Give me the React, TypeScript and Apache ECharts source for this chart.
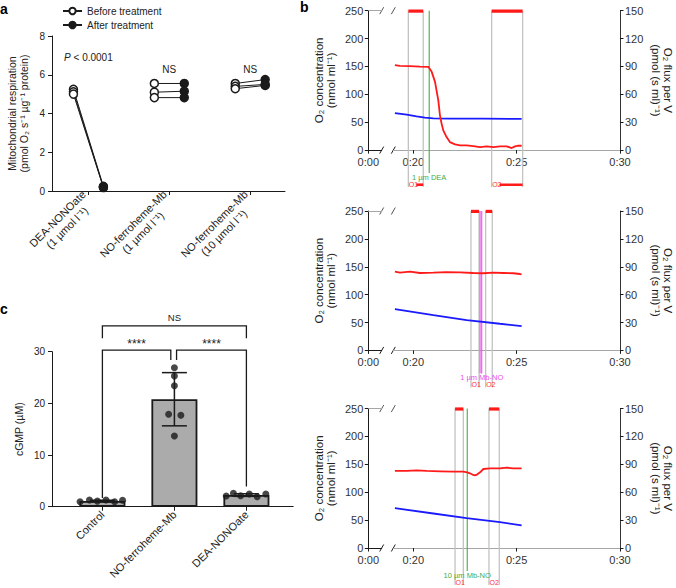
import React, { useEffect, useRef } from 'react';
import * as echarts from 'echarts';

// ================= Panel a : mitochondrial respiration =================
const A_CATEGORIES = [
  ['DEA-NONOate', '(1 µmol l⁻¹)'],
  ['NO-ferroheme-Mb', '(1 µmol l⁻¹)'],
  ['NO-ferroheme-Mb', '(10 µmol l⁻¹)'],
];
const A_BEFORE = [
  [5.25, 5.12, 5.0],
  [5.55, 5.1, 4.82],
  [5.55, 5.4, 5.28],
];
const A_AFTER = [
  [0.24, 0.2, 0.18],
  [5.55, 5.15, 4.82],
  [5.75, 5.5, 5.45],
];
const A_STATS = ['P < 0.0001', 'NS', 'NS'];
const A_LEGEND = ['Before treatment', 'After treatment'];
const A_Y_MAX = 8;
const A_Y_STEP = 2;

// ================= Panel c : cGMP =================
const C_CATEGORIES = ['Control', 'NO-ferroheme-Mb', 'DEA-NONOate'];
const C_MEAN = [1.1, 20.8, 2.25];
const C_SD = [0.15, 5.15, 0.25];
const C_POINTS = [
  [0.96, 1.28, 1.08, 1.28, 0.96, 1.25],
  [26.9, 25.3, 23.4, 17.9, 17.7, 13.7],
  [2.06, 2.58, 2.13, 2.45, 1.94, 2.45],
];
const C_BRACKET_LABELS = ['NS', '****', '****'];
const C_Y_MAX = 30;
const C_Y_STEP = 10;

// ================= Panel b : oxygraph traces (time in min) =================
const B_TIME_TICKS = [20, 25, 30];
const B_CONC_MAX = 250;
const B_CONC_STEP = 50;
const B_FLUX_MAX = 150;
const B_FLUX_STEP = 30;

// trace 1 (1 µm DEA)
const B1_FLUX_T = [19.11, 19.35, 19.84, 20.32, 20.73, 20.89, 21.05, 21.21, 21.29, 21.37, 21.45, 21.61, 21.77, 22.02, 22.26, 22.58, 22.9, 23.23, 23.55, 23.87, 24.19, 24.52, 24.76, 24.92, 25.08, 25.24];
const B1_FLUX = [91.4, 90.6, 90.3, 89.9, 89.6, 84.2, 73.4, 53.6, 37.4, 28.4, 21.2, 14.0, 8.6, 6.1, 5.0, 5.0, 4.3, 3.2, 4.0, 3.2, 4.0, 4.0, 2.2, 4.0, 4.7, 4.7];
const B1_CONC_T = [19.11, 19.68, 20.16, 20.56, 20.97, 21.77, 23.39, 25.24];
const B1_CONC = [66.5, 63.5, 60.5, 58.2, 57.0, 56.4, 56.4, 56.0];
const B1_WINDOWS = [[19.76, 20.48], [23.79, 25.29]];
const B1_WINDOW_LABELS = ['O1', 'O2'];
const B1_INJ = [20.77];
const B1_INJ_LABELS = ['1 µm DEA'];

// trace 2 (1 µm Mb-NO)
const B2_FLUX_T = [19.11, 19.35, 19.84, 20.32, 20.97, 21.61, 22.26, 22.9, 23.39, 23.87, 24.35, 24.84, 25.16, 25.24];
const B2_FLUX = [84.7, 83.6, 84.7, 83.3, 83.6, 84.3, 84.0, 83.3, 83.0, 83.6, 83.3, 83.0, 82.2, 81.8];
const B2_CONC_T = [19.11, 20.97, 22.58, 24.19, 25.24];
const B2_CONC = [74.2, 63.4, 54.4, 47.8, 43.7];
const B2_WINDOWS = [[22.79, 23.18], [23.5, 23.82]];
const B2_WINDOW_LABELS = ['O1', 'O2'];
const B2_INJ = [23.23, 23.31];
const B2_INJ_LABELS = ['', '1 µm Mb-NO'];

// trace 3 (10 µm Mb-NO)
const B3_FLUX_T = [19.11, 19.68, 20.16, 20.65, 21.29, 21.94, 22.42, 22.61, 22.74, 22.9, 22.98, 23.1, 23.23, 23.39, 23.71, 24.19, 24.52, 24.84, 25.24];
const B3_FLUX = [82.9, 82.9, 83.6, 82.9, 82.5, 82.1, 82.1, 81.4, 80.4, 78.6, 78.2, 79.3, 81.4, 85.0, 85.7, 85.7, 86.4, 85.7, 85.7];
const B3_CONC_T = [19.11, 20.97, 22.58, 24.19, 25.24];
const B3_CONC = [71.4, 61.9, 53.6, 46.4, 40.5];
const B3_WINDOWS = [[22.02, 22.42], [23.66, 24.16]];
const B3_WINDOW_LABELS = ['O1', 'O2'];
const B3_INJ = [22.61];
const B3_INJ_LABELS = ['10 µm Mb-NO'];

// ================= styling / layout =================
const FONT = '"Liberation Sans", Arial, sans-serif';
const INK = '#222';
const AX = '#1a1a1a';
const A_PAIR_OFFSET = 0.185;
const A_STAT_LEVEL = [6.88, 6.27, 6.27];
const A_LABEL_PAD = [10, 17, 14];
const C_JITTER = [
  [-0.31, -0.18, -0.07, 0.05, 0.17, 0.28],
  [0, 0, 0, -0.08, 0.09, 0],
  [-0.28, -0.18, -0.08, 0.04, 0.15, 0.27],
];
const C_BRACKETS = [
  { x: [1, 3], y: 35.0, legs: [32.6, 32.6] },
  { x: [1, 1.95], y: 30.3, legs: [1.7, 28.4] },
  { x: [2.03, 3], y: 30.3, legs: [28.4, 3.9] },
];

const zip = (a: number[], b: number[]) => a.map((v, i) => [v, b[i]]);

function buildOption() {
  const grid: any[] = [];
  const xAxis: any[] = [];
  const yAxis: any[] = [];
  const series: any[] = [];
  const graphic: any[] = [];
  const addGrid = (g: any) => { grid.push({ ...g, containLabel: false, outerBoundsMode: 'none' }); return grid.length - 1; };
  const addX = (a: any) => { xAxis.push({ splitLine: { show: false }, ...a }); return xAxis.length - 1; };
  const addY = (a: any) => { yAxis.push({ splitLine: { show: false }, ...a }); return yAxis.length - 1; };
  const axLine = (color = AX) => ({ show: true, lineStyle: { color, width: 1 } });
  const tick = (len: number, extra: any = {}) => ({ show: true, length: len, inside: false, lineStyle: { color: AX, width: 1 }, ...extra });

  // ---------------- panel a ----------------
  const gA = addGrid({ left: 52, top: 36, width: 233, height: 155 });
  const aRich: any = { l1: { fontSize: 11, color: INK, fontFamily: FONT, lineHeight: 13 } };
  A_LABEL_PAD.forEach((pad, i) => {
    aRich['p' + i] = { fontSize: 11, color: INK, fontFamily: FONT, lineHeight: 13, padding: [0, pad, 0, 0] };
  });
  const xA = addX({
    gridIndex: gA, type: 'value', position: 'bottom', min: 0.55, max: 3.43,
    axisLine: axLine(), axisTick: tick(4, { customValues: [1, 2, 3] }),
    axisLabel: {
      customValues: [1, 2, 3], rotate: 45, fontSize: 11, color: INK, margin: 6, rich: aRich,
      formatter: (v: number) => {
        const i = Math.round(v) - 1;
        const [l1, l2] = A_CATEGORIES[i];
        return `{l1|${l1}}\n{p${i}|${l2}}`;
      },
    },
  });
  const yA = addY({
    gridIndex: gA, type: 'value', min: 0, max: A_Y_MAX, interval: A_Y_STEP,
    axisLine: axLine(), axisTick: tick(4), axisLabel: { fontSize: 10, color: INK, margin: 7 },
    name: 'Mitochondrial respiration\n(pmol O₂ s⁻¹ µg⁻¹ protein)', nameLocation: 'middle', nameGap: 22,
    nameTextStyle: { fontSize: 10.5, color: INK, lineHeight: 12 },
  });
  const openStyle = { color: '#fff', borderColor: AX, borderWidth: 1.5 };
  const fillStyle = { color: AX, borderColor: AX, borderWidth: 1.5 };
  A_BEFORE.forEach((reps, i) => {
    reps.forEach((b, j) => {
      series.push({
        type: 'line', xAxisIndex: xA, yAxisIndex: yA, symbol: 'circle', symbolSize: 8, z: 3,
        lineStyle: { color: AX, width: 1 }, silent: true,
        data: [
          { value: [i + 1 - A_PAIR_OFFSET, b], itemStyle: openStyle },
          { value: [i + 1 + A_PAIR_OFFSET, A_AFTER[i][j]], itemStyle: fillStyle },
        ],
      });
    });
  });
  series.push({ name: A_LEGEND[0], type: 'line', xAxisIndex: xA, yAxisIndex: yA, data: [], symbol: 'circle', symbolSize: 8, itemStyle: openStyle, lineStyle: { color: AX, width: 1 } });
  series.push({ name: A_LEGEND[1], type: 'line', xAxisIndex: xA, yAxisIndex: yA, data: [], symbol: 'circle', symbolSize: 8, itemStyle: fillStyle, lineStyle: { color: AX, width: 1 } });
  series.push({
    type: 'custom', xAxisIndex: xA, yAxisIndex: yA, clip: false, silent: true, z: 5,
    data: A_STATS.map((_, i) => [i + 1, A_STAT_LEVEL[i]]),
    encode: { x: 0, y: 1 },
    renderItem: (params: any, api: any) => {
      const p = api.coord([api.value(0), api.value(1)]);
      const s = A_STATS[params.dataIndex];
      const text = s.startsWith('P ') ? '{i|P}' + s.slice(1) : s;
      return {
        type: 'text', x: p[0], y: p[1],
        style: { text, fill: INK, fontSize: 10, fontFamily: FONT, align: 'center', verticalAlign: 'middle', rich: { i: { fontStyle: 'italic', fontSize: 10, fontFamily: FONT, fill: INK } } },
      };
    },
  });

  // ---------------- panel c ----------------
  const gC = addGrid({ left: 52, top: 351.7, width: 241.2, height: 155 });
  const xC = addX({
    gridIndex: gC, type: 'value', position: 'bottom', min: 0.3, max: 3.65,
    axisLine: axLine(), axisTick: tick(4, { customValues: [1, 2, 3] }),
    axisLabel: { customValues: [1, 2, 3], formatter: (v: number) => C_CATEGORIES[Math.round(v) - 1], rotate: 45, fontSize: 11, color: INK, margin: 6 },
  });
  const yC = addY({
    gridIndex: gC, type: 'value', min: 0, max: C_Y_MAX, interval: C_Y_STEP,
    axisLine: axLine(), axisTick: tick(4), axisLabel: { fontSize: 10, color: INK, margin: 7 },
    name: 'cGMP (µM)', nameLocation: 'middle', nameGap: 28, nameTextStyle: { fontSize: 10.5, color: INK },
  });
  series.push({
    type: 'bar', xAxisIndex: xC, yAxisIndex: yC, barWidth: 46, z: 2, silent: true,
    data: C_MEAN.map((m, i) => [i + 1, m]),
    itemStyle: { color: '#ababab', borderColor: AX, borderWidth: 1.8 },
  });
  series.push({
    type: 'custom', xAxisIndex: xC, yAxisIndex: yC, clip: false, silent: true, z: 4,
    data: C_MEAN.map((m, i) => [i + 1, m - C_SD[i], m + C_SD[i]]),
    encode: { x: 0, y: [1, 2] },
    renderItem: (params: any, api: any) => {
      const lo = api.coord([api.value(0), api.value(1)]);
      const hi = api.coord([api.value(0), api.value(2)]);
      const w = 12.5;
      const st = { stroke: AX, lineWidth: 1.5 };
      return {
        type: 'group', children: [
          { type: 'line', shape: { x1: lo[0], y1: lo[1], x2: hi[0], y2: hi[1] }, style: st },
          { type: 'line', shape: { x1: lo[0] - w, y1: lo[1], x2: lo[0] + w, y2: lo[1] }, style: st },
          { type: 'line', shape: { x1: hi[0] - w, y1: hi[1], x2: hi[0] + w, y2: hi[1] }, style: st },
        ],
      };
    },
  });
  series.push({
    type: 'scatter', xAxisIndex: xC, yAxisIndex: yC, symbolSize: 7, z: 5, silent: true,
    itemStyle: { color: AX },
    data: C_POINTS.flatMap((pts, i) => pts.map((v, j) => [i + 1 + C_JITTER[i][j], v])),
  });
  series.push({
    type: 'custom', xAxisIndex: xC, yAxisIndex: yC, clip: false, silent: true, z: 5,
    data: C_BRACKETS.map((b) => [b.x[0], b.x[1], b.y, b.legs[0], b.legs[1]]),
    encode: { x: [0, 1], y: [2, 3, 4] },
    renderItem: (params: any, api: any) => {
      const xl = api.value(0), xr = api.value(1), y = api.value(2);
      const a = api.coord([xl, api.value(3)]);
      const b = api.coord([xl, y]);
      const c = api.coord([xr, y]);
      const d = api.coord([xr, api.value(4)]);
      const label = C_BRACKET_LABELS[params.dataIndex];
      const isStar = label.startsWith('*');
      return {
        type: 'group', children: [
          { type: 'polyline', shape: { points: [a, b, c, d] }, style: { stroke: AX, lineWidth: 1.3, fill: 'none' } },
          {
            type: 'text', x: (b[0] + c[0]) / 2, y: b[1] - (isStar ? 0 : 3),
            style: { text: label, fill: INK, fontSize: isStar ? 12 : 9.5, fontFamily: FONT, align: 'center', verticalAlign: 'bottom' },
          },
        ],
      };
    },
  });

  // ---------------- panel b ----------------
  const panels = [
    { fT: B1_FLUX_T, f: B1_FLUX, cT: B1_CONC_T, c: B1_CONC, win: B1_WINDOWS, winL: B1_WINDOW_LABELS, inj: B1_INJ, injL: B1_INJ_LABELS, injColor: '#45ad45' },
    { fT: B2_FLUX_T, f: B2_FLUX, cT: B2_CONC_T, c: B2_CONC, win: B2_WINDOWS, winL: B2_WINDOW_LABELS, inj: B2_INJ, injL: B2_INJ_LABELS, injColor: '#e94fe9' },
    { fT: B3_FLUX_T, f: B3_FLUX, cT: B3_CONC_T, c: B3_CONC, win: B3_WINDOWS, winL: B3_WINDOW_LABELS, inj: B3_INJ, injL: B3_INJ_LABELS, injColor: '#45ad45' },
  ];
  const B_TOPS = [10.7, 211, 408.6];
  const B_H = 139.4;
  const L_LEFT = 368.3, L_RIGHT = 381.7, R_LEFT = 393.3, R_RIGHT = 620;
  const R_MIN = 20 - (413.3 - R_LEFT) / 20.67;
  const bLabel = { fontSize: 11, color: '#333' };

  panels.forEach((p, k) => {
    const top = B_TOPS[k];
    const gL = addGrid({ left: L_LEFT, top, width: L_RIGHT - L_LEFT, height: B_H });
    const gR = addGrid({ left: R_LEFT, top, width: R_RIGHT - R_LEFT, height: B_H });
    addX({
      gridIndex: gL, type: 'value', position: 'bottom', min: 0, max: 1,
      axisLine: axLine(), axisTick: tick(3.5, { customValues: [0] }),
      axisLabel: { customValues: [0], formatter: () => '0:00', ...bLabel, margin: 6 },
    });
    addX({ gridIndex: gL, type: 'value', position: 'top', min: 0, max: 1, axisLine: axLine('#a6a6a6'), axisTick: { show: false }, axisLabel: { show: false } });
    const xR = addX({
      gridIndex: gR, type: 'value', position: 'bottom', min: R_MIN, max: 30,
      axisLine: axLine(), axisTick: tick(3.5, { customValues: B_TIME_TICKS }),
      axisLabel: { customValues: B_TIME_TICKS, formatter: (v: number) => '0:' + Math.round(v), ...bLabel, margin: 6 },
    });
    addX({ gridIndex: gR, type: 'value', position: 'top', min: R_MIN, max: 30, axisLine: axLine('#a6a6a6'), axisTick: { show: false }, axisLabel: { show: false } });
    addY({
      gridIndex: gL, type: 'value', position: 'left', min: 0, max: B_CONC_MAX, interval: B_CONC_STEP,
      axisLine: axLine(), axisTick: tick(3.5), axisLabel: { ...bLabel, margin: 5 },
      name: 'O₂ concentration\n(nmol ml⁻¹)', nameLocation: 'middle', nameGap: 31,
      nameTextStyle: { fontSize: 11.5, color: INK, lineHeight: 12 },
    });
    const yFlux = addY({
      gridIndex: gR, type: 'value', position: 'right', min: 0, max: B_FLUX_MAX, interval: B_FLUX_STEP,
      axisLine: axLine('#333'), axisTick: tick(3.5), axisLabel: { ...bLabel, margin: 5 },
      name: 'O₂ flux per V\n(pmol (s ml)⁻¹)', nameLocation: 'middle', nameGap: 30, nameRotate: -90,
      nameTextStyle: { fontSize: 11.5, color: INK, lineHeight: 12 },
    });
    const yConc = addY({ gridIndex: gR, type: 'value', position: 'left', min: 0, max: B_CONC_MAX, show: false });

    // O1 / O2 windows
    series.push({
      type: 'custom', xAxisIndex: xR, yAxisIndex: yConc, clip: false, silent: true, z: 1,
      data: p.win.map((w) => [w[0], w[1], 0]),
      encode: { x: [0, 1], y: 2 },
      renderItem: (params: any, api: any) => {
        const s = api.coord([api.value(0), B_CONC_MAX]);
        const e = api.coord([api.value(1), B_CONC_MAX]);
        const yBot = api.coord([api.value(0), 0])[1];
        const gray = { stroke: '#c3c3c3', lineWidth: 1.3 };
        const children: any[] = [
          { type: 'line', shape: { x1: s[0], y1: s[1], x2: s[0], y2: yBot + 37 }, style: gray },
          { type: 'line', shape: { x1: e[0], y1: e[1], x2: e[0], y2: yBot + 37 }, style: gray },
          { type: 'rect', shape: { x: s[0], y: s[1] - 1.2, width: e[0] - s[0], height: 3.2 }, style: { fill: '#ff1a1a' } },
          { type: 'text', x: s[0] + 0.5, y: yBot + 34.5, style: { text: p.winL[params.dataIndex], fill: '#ff3333', fontSize: 7, fontFamily: FONT, align: 'left', verticalAlign: 'middle' } },
        ];
        if (e[0] - s[0] > 12) {
          children.push({ type: 'rect', shape: { x: s[0] + 8, y: yBot + 33.3, width: e[0] - s[0] - 8, height: 2.6 }, style: { fill: '#ff1a1a' } });
        }
        return { type: 'group', children };
      },
    });
    // injection markers
    series.push({
      type: 'custom', xAxisIndex: xR, yAxisIndex: yConc, clip: false, silent: true, z: 2,
      data: p.inj.map((x) => [x, 0]),
      encode: { x: 0, y: 1 },
      renderItem: (params: any, api: any) => {
        const t = api.coord([api.value(0), B_CONC_MAX]);
        const yBot = api.coord([api.value(0), 0])[1];
        return {
          type: 'group', children: [
            { type: 'line', shape: { x1: t[0], y1: t[1], x2: t[0], y2: yBot + 23 }, style: { stroke: p.injColor, lineWidth: 1.1 } },
            { type: 'text', x: t[0], y: yBot + 27, style: { text: p.injL[params.dataIndex], fill: p.injColor, fontSize: 7.5, fontFamily: FONT, align: 'center', verticalAlign: 'middle' } },
          ],
        };
      },
    });
    series.push({
      type: 'line', xAxisIndex: xR, yAxisIndex: yConc, data: zip(p.cT, p.c), symbol: 'none', z: 3, silent: true,
      lineStyle: { color: '#1a1aff', width: 1.8 },
    });
    series.push({
      type: 'line', xAxisIndex: xR, yAxisIndex: yFlux, data: zip(p.fT, p.f), symbol: 'none', z: 4, silent: true,
      lineStyle: { color: '#ff1a1a', width: 1.8 },
    });

    // axis-break slashes
    [top, top + B_H].forEach((yy, m) => {
      [L_RIGHT, R_LEFT].forEach((xx) => {
        graphic.push({ type: 'line', shape: { x1: xx - 2, y1: yy + 3.5, x2: xx + 2, y2: yy - 3.5 }, style: { stroke: m === 0 ? '#555' : AX, lineWidth: 1 }, silent: true });
      });
    });
  });

  // panel letters
  const letter = (t: string, x: number, y: number) => ({ type: 'text', x, y, style: { text: t, fill: '#000', fontSize: 14, fontWeight: 'bold', fontFamily: FONT, align: 'left', verticalAlign: 'top' }, silent: true });
  graphic.push(letter('a', 0, 2), letter('b', 300, 0), letter('c', 0, 302));

  return {
    animation: false,
    backgroundColor: '#fff',
    textStyle: { fontFamily: FONT },
    grid, xAxis, yAxis, series, graphic,
    legend: {
      data: A_LEGEND, left: 62, top: 6, padding: 0, orient: 'vertical', itemWidth: 19, itemHeight: 8, itemGap: 4,
      selectedMode: false, textStyle: { fontSize: 10, color: INK, fontFamily: FONT },
    },
  };
}

export default function App() {
  const ref = useRef<HTMLDivElement>(null);
  useEffect(() => {
    document.body.style.margin = '0';
    const chart = echarts.init(ref.current!, null, { renderer: 'svg' });
    chart.setOption(buildOption() as any);
    return () => chart.dispose();
  }, []);
  return <div ref={ref} style={{ width: 676, height: 588 }} />;
}
